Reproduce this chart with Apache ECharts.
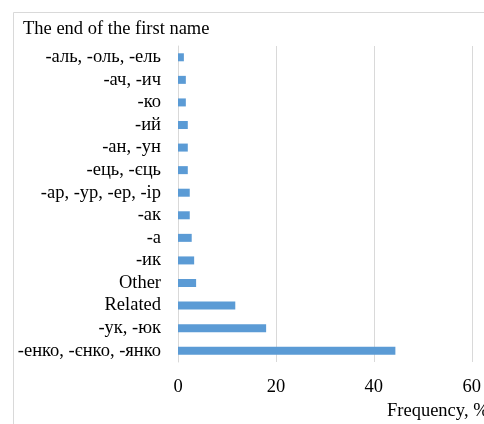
<!DOCTYPE html>
<html>
<head>
<meta charset="utf-8">
<script src="https://cdn.jsdelivr.net/npm/echarts@6/dist/echarts.min.js"></script>
<style>html,body{margin:0;padding:0;background:#fff;}#c{width:484px;height:424px;}</style>
</head>
<body>
<div id="c"></div>
<script>
const categories = ['-аль, -оль, -ель', '-ач, -ич', '-ко', '-ий', '-ан, -ун', '-ець, -єць', '-ар, -ур, -ер, -ір', '-ак', '-а', '-ик', 'Other', 'Related', '-ук, -юк', '-енко, -єнко, -янко'];
const values = [1.2, 1.6, 1.6, 2.0, 2.0, 2.0, 2.4, 2.4, 2.8, 3.3, 3.7, 11.7, 18.0, 44.4];
const titleText = 'The end of the first name';
const axisTitle = 'Frequency, %';

const font = "'Liberation Serif', 'Times New Roman', serif";
const chart = echarts.init(document.getElementById('c'));
chart.setOption({
  animation: false,
  backgroundColor: '#fff',
  graphic: [
    { type: 'rect', shape: { x: 13.5, y: 12.5, width: 500, height: 500 }, style: { fill: 'none', stroke: '#d9d9d9', lineWidth: 1 }, silent: true },
    { type: 'text', left: 23, top: 20, style: { text: titleText, font: "18.5px " + font, fill: '#000' } },
    { type: 'text', left: 387, top: 402, style: { text: axisTitle, font: "18.5px " + font, fill: '#000' } }
  ],
  grid: { left: 178, right: 9, top: 46, bottom: 62, containLabel: false },
  xAxis: {
    type: 'value', min: 0, max: 60, interval: 20,
    axisLine: { show: false }, axisTick: { show: false },
    splitLine: { lineStyle: { color: '#d9d9d9', width: 1 } },
    axisLabel: { color: '#000', fontFamily: font, fontSize: 18.5, margin: 16 }
  },
  yAxis: {
    type: 'category', data: categories, inverse: true,
    axisLine: { show: true, lineStyle: { color: '#d9d9d9' } },
    axisTick: { show: false },
    axisLabel: { interval: 0, color: '#000', fontFamily: font, fontSize: 18.5, margin: 17 }
  },
  series: [{
    type: 'bar', data: values, barWidth: 8,
    itemStyle: { color: '#5b9bd5' }
  }]
});
</script>
</body>
</html>
